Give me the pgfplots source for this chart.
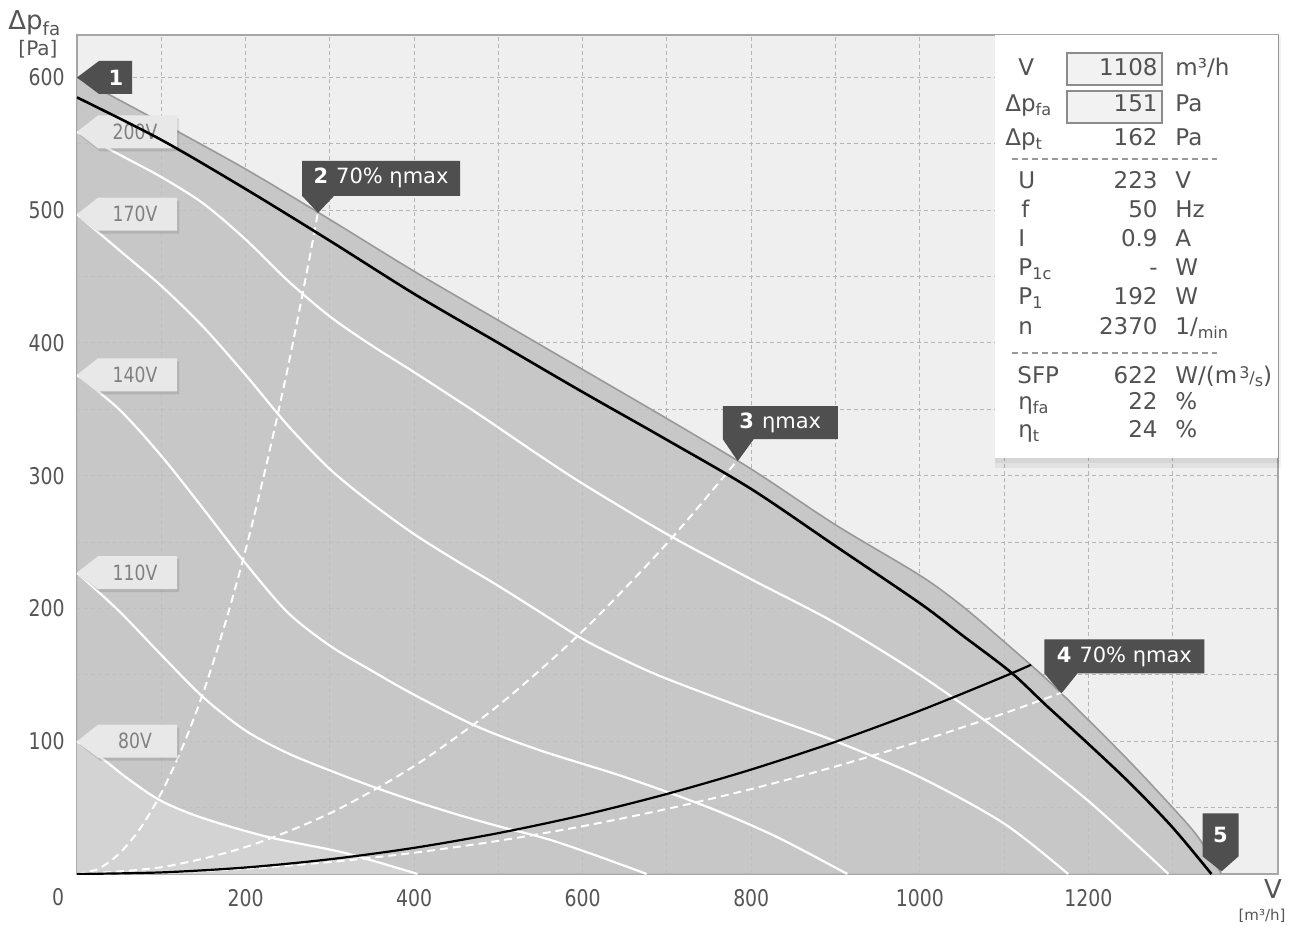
\documentclass[border=0pt]{standalone}
\usepackage{fontspec}
\setmainfont{DejaVu Sans}
\newfontfamily\narrowfont{DejaVu Sans}[FakeStretch=0.82]
\usepackage{pgfplots}
\pgfplotsset{compat=1.18}

\definecolor{bgplot}{HTML}{EFEFEF}
\definecolor{envfill}{HTML}{C1C1C1}
\definecolor{lowfill}{HTML}{D6D6D6}
\definecolor{badge}{HTML}{4F4F4F}
\definecolor{tagfill}{HTML}{E8E8E8}
\definecolor{txt}{HTML}{555555}
\definecolor{gridc}{HTML}{B5B5B5}

% voltage tag, tip at a point on the left edge
\newcommand\vtag[2]{%
  \fill[black, opacity=0.10] ([xshift=1pt,yshift=-1.5pt]axis cs:0,#1) -- ++(10.5pt,8.25pt) -- ++(39.5pt,0) -- ++(0,-16.5pt) -- ++(-39.5pt,0) -- cycle;
  \fill[tagfill] (axis cs:0,#1) -- ++(10.5pt,8.25pt) -- ++(39.5pt,0) -- ++(0,-16.5pt) -- ++(-39.5pt,0) -- cycle;
  \node[inner sep=0, text=black!50, font=\narrowfont\fontsize{10.5}{12}\selectfont] at ([xshift=29pt]axis cs:0,#1) {#2};}

\begin{document}
\begin{tikzpicture}
\useasboundingbox (-38.5pt,-29pt) rectangle (609.5pt,437pt);
\begin{axis}[
  at={(0pt,0pt)}, anchor=south west,
  scale only axis, width=600.5pt, height=419.5pt,
  xmin=0, xmax=1425, ymin=0, ymax=632,
  axis background/.style={fill=bgplot},
  axis line style={draw=black!35, line width=1pt},
  xtick={200,400,...,1200}, ytick={100,200,...,600},
  minor xtick={100,300,...,1400}, minor ytick={50,150,...,550},
  grid=both,
  major grid style={gridc, dash pattern=on 2pt off 1.5pt, line width=0.5pt},
  minor grid style={gridc, dash pattern=on 2pt off 1.5pt, line width=0.5pt},
  major tick length=0pt, minor tick length=0pt,
  tick label style={font=\narrowfont\fontsize{11.5}{13}\selectfont, text=txt, /pgf/number format/assume math mode=true},
  xticklabel style={yshift=-4pt},
  yticklabel style={xshift=-2.7pt},
  scaled ticks=false,
  /pgf/number format/1000 sep={},
]
% fan area (translucent so the grid shows through)
\addplot[draw=none, fill=envfill, fill opacity=0.85, smooth] coordinates {
  (0,600)(100,566)(200,531)(300,493)(400,454)(500,417)(600,380)(700,343)(800,305)(900,263)
  (1000,225)(1050,202)(1100,175)(1150,147)(1200,116)(1250,84)(1300,50)(1330,28)(1358,0)} \closedcycle;
\addplot[draw=none, fill=lowfill, fill opacity=0.85, smooth] coordinates {
  (0,100)(30,87)(60,72)(100,55)(150,42)(226,28)(317,16)(404,0)} \closedcycle;
% edge of fan area
\addplot[black!40, line width=0.8pt, smooth] coordinates {
  (0,600)(100,566)(200,531)(300,493)(400,454)(500,417)(600,380)(700,343)(800,305)(900,263)
  (1000,225)(1050,202)(1100,175)(1150,147)(1200,116)(1250,84)(1300,50)(1330,28)(1358,0)};
% speed curves
\addplot[white, line width=1.1pt, smooth] coordinates {
  (0,559)(50,542)(100,525)(150,505)(200,478)(250,447)(300,420)(350,398)(400,378)(475,347)(540,319)
  (600,294)(700,256)(800,222)(900,189)(1000,150)(1100,105)(1200,55)(1295,0)};
\addplot[white, line width=1.1pt, smooth] coordinates {
  (0,497)(50,470)(100,443)(150,412)(200,376)(250,338)(300,305)(350,279)(400,256)(450,236)(500,217)
  (550,197)(600,177)(650,161)(700,147)(800,123)(900,100)(1000,73)(1100,38)(1176,0)};
\addplot[white, line width=1.1pt, smooth] coordinates {
  (0,376)(50,350)(100,315)(150,275)(200,234)(250,197)(300,172)(350,153)(400,135)(475,111)(550,93)
  (650,73)(750,50)(830,28)(914,0)};
\addplot[white, line width=1.1pt, smooth] coordinates {
  (0,227)(50,198)(100,165)(150,133)(200,108)(250,91)(300,78)(350,66)(400,55)(450,45)(500,36)
  (560,26)(620,13)(676,0)};
\addplot[white, line width=1.1pt, smooth] coordinates {
  (0,100)(30,87)(60,72)(100,55)(150,42)(226,28)(317,16)(404,0)};
% efficiency lines
\addplot[white, line width=1pt, dash pattern=on 4pt off 2.5pt, smooth] coordinates {
  (0,0)(25,3.8)(50,15.3)(75,34.3)(100,61)(125,95.3)(150,137)(175,187)(200,244)(225,309)(250,381)(275,461)(286,499)};
\addplot[white, line width=1pt, dash pattern=on 4pt off 2.5pt, smooth] coordinates {
  (0,0)(100,5.1)(200,20.3)(300,45.7)(400,81.3)(500,127)(600,183)(700,249)(784,312)};
\addplot[white, line width=1pt, dash pattern=on 4pt off 2.5pt, smooth] coordinates {
  (0,0)(100,1)(200,4)(300,9)(400,16)(500,25)(600,36)(700,49)(800,64)(900,81)(1000,100)(1100,121)(1170,137)};
% voltage tags
\vtag{559}{200V}
\vtag{497}{170V}
\vtag{376}{140V}
\vtag{227}{110V}
\vtag{100}{80V}
% operating curve and system curve
\addplot[black, line width=1.3pt, smooth] coordinates {
  (0,585)(100,553)(200,516)(300,477)(400,437)(500,400)(600,363)(700,327)(800,290)(900,247)
  (1000,204)(1050,180)(1108,152)(1150,127)(1200,98)(1250,68)(1300,35)(1346,0)};
\addplot[black, line width=1.1pt, smooth] coordinates {
  (0,0)(100,1.2)(200,4.9)(300,11.1)(400,19.7)(500,30.8)(600,44.3)(700,60.3)(800,78.7)(900,99.6)
  (1000,123)(1100,148.8)(1132,157.6)};
\coordinate (b1) at (axis cs:0,600);
\coordinate (b2) at (axis cs:286,498);
\coordinate (b3) at (axis cs:784,311);
\coordinate (b4) at (axis cs:1168,136);
\coordinate (b5) at (axis cs:1358,2);
\end{axis}

% markers
\begin{scope}[every node/.style={text=white, inner sep=0, font=\fontsize{10.5}{12}\selectfont}]
\fill[badge] (b1) -- ++(11pt,8.25pt) -- ++(16.5pt,0) -- ++(0,-16.5pt) -- ++(-16.5pt,0) -- cycle;
\node at ([xshift=19.5pt]b1) {\textbf{1}};
\fill[badge] (b2) -- ++(-8pt,8.5pt) -- ++(0,17.5pt) -- ++(79pt,0) -- ++(0,-17.5pt) -- ++(-63pt,0) -- cycle;
\node at ([xshift=31.5pt,yshift=17.25pt]b2) {\textbf{2}\hspace{4pt}70\% ηmax};
\fill[badge] (b3) -- ++(-7.5pt,11pt) -- ++(0,16.5pt) -- ++(57.5pt,0) -- ++(0,-16.5pt) -- ++(-42pt,0) -- cycle;
\node at ([xshift=21.25pt,yshift=19.25pt]b3) {\textbf{3}\hspace{4pt}ηmax};
\fill[badge] (b4) -- ++(-8.5pt,10pt) -- ++(0,17pt) -- ++(80pt,0) -- ++(0,-17pt) -- ++(-63.5pt,0) -- cycle;
\node at ([xshift=31.5pt,yshift=18.5pt]b4) {\textbf{4}\hspace{4pt}70\% ηmax};
\fill[badge] (b5) -- ++(-9.5pt,7.5pt) -- ++(0,21.5pt) -- ++(18pt,0) -- ++(0,-21.5pt) -- cycle;
\node at ([xshift=-0.5pt,yshift=18pt]b5) {\textbf{5}};
\end{scope}

% info box
\fill[black, opacity=0.05] (459pt,203pt) rectangle (602pt,419.5pt);
\fill[black, opacity=0.05] (459pt,205.5pt) rectangle (601pt,419.5pt);
\fill[white] (459pt,208pt) rectangle (600.5pt,419.5pt);
\filldraw[fill=black!5, draw=black!45, line width=0.6pt] (495pt,394.5pt) rectangle (542.5pt,410.5pt);
\filldraw[fill=black!5, draw=black!45, line width=0.6pt] (495pt,375.5pt) rectangle (542.5pt,391.5pt);
\draw[black!40, dash pattern=on 3pt off 2pt, line width=0.6pt] (467.5pt,357.5pt) -- (570pt,357.5pt);
\draw[black!40, dash pattern=on 3pt off 2pt, line width=0.6pt] (467.5pt,260.5pt) -- (570pt,260.5pt);
\begin{scope}[every node/.style={inner sep=0, text=black!68, font=\fontsize{11.5}{13}\selectfont}]
\node[anchor=mid west] at (470.5pt,402pt) {V};
\node[anchor=mid west] at (464pt,384pt) {Δp\textsubscript{fa}};
\node[anchor=mid west] at (464pt,367pt) {Δp\textsubscript{t}};
\node[anchor=mid west] at (470.5pt,345.5pt) {U};
\node[anchor=mid west] at (472pt,331pt) {f};
\node[anchor=mid west] at (470.5pt,316.5pt) {I};
\node[anchor=mid west] at (470.5pt,302pt) {P\textsubscript{1c}};
\node[anchor=mid west] at (470.5pt,287.5pt) {P\textsubscript{1}};
\node[anchor=mid west] at (470.5pt,272.5pt) {n};
\node[anchor=mid west] at (470pt,248pt) {SFP};
\node[anchor=mid west] at (470.5pt,235pt) {η\textsubscript{fa}};
\node[anchor=mid west] at (470.5pt,221pt) {η\textsubscript{t}};
\node[anchor=mid east] at (540.5pt,402pt) {1108};
\node[anchor=mid east] at (540.5pt,384pt) {151};
\node[anchor=mid east] at (540.5pt,367pt) {162};
\node[anchor=mid east] at (540.5pt,345.5pt) {223};
\node[anchor=mid east] at (540.5pt,331pt) {50};
\node[anchor=mid east] at (540.5pt,316.5pt) {0.9};
\node[anchor=mid east] at (540.5pt,302pt) {-};
\node[anchor=mid east] at (540.5pt,287.5pt) {192};
\node[anchor=mid east] at (540.5pt,272.5pt) {2370};
\node[anchor=mid east] at (540.5pt,248pt) {622};
\node[anchor=mid east] at (540.5pt,235pt) {22};
\node[anchor=mid east] at (540.5pt,221pt) {24};
\node[anchor=mid west] at (549pt,402pt) {m³/h};
\node[anchor=mid west] at (549pt,384pt) {Pa};
\node[anchor=mid west] at (549pt,367pt) {Pa};
\node[anchor=mid west] at (549pt,345.5pt) {V};
\node[anchor=mid west] at (549pt,331pt) {Hz};
\node[anchor=mid west] at (549pt,316.5pt) {A};
\node[anchor=mid west] at (549pt,302pt) {W};
\node[anchor=mid west] at (549pt,287.5pt) {W};
\node[anchor=mid west] at (549pt,272.5pt) {1/\textsubscript{min}};
\node[anchor=mid west] at (549pt,248pt) {W/(m\hspace{1pt}{\fontsize{8}{9}\selectfont\raisebox{2.5pt}{3}/\raisebox{-1.5pt}{s}})};
\node[anchor=mid west] at (549pt,235pt) {\%};
\node[anchor=mid west] at (549pt,221pt) {\%};
\end{scope}

% axis titles
\node[inner sep=0, anchor=base west, text=txt, font=\fontsize{13}{14}\selectfont] at (-34.5pt,422pt) {Δp\textsubscript{fa}};
\node[inner sep=0, text=txt, font=\fontsize{10}{12}\selectfont] at (-19.5pt,412.5pt) {[Pa]};
\node[inner sep=0, text=txt, font=\narrowfont\fontsize{11.5}{13}\selectfont] at (-9.5pt,-11.5pt) {0};
\node[inner sep=0, text=txt, font=\fontsize{13}{14}\selectfont] at (598pt,-7.5pt) {V};
\node[inner sep=0, text=txt, font=\fontsize{7.5}{9}\selectfont] at (592.5pt,-21pt) {[m³/h]};
\end{tikzpicture}
\end{document}
